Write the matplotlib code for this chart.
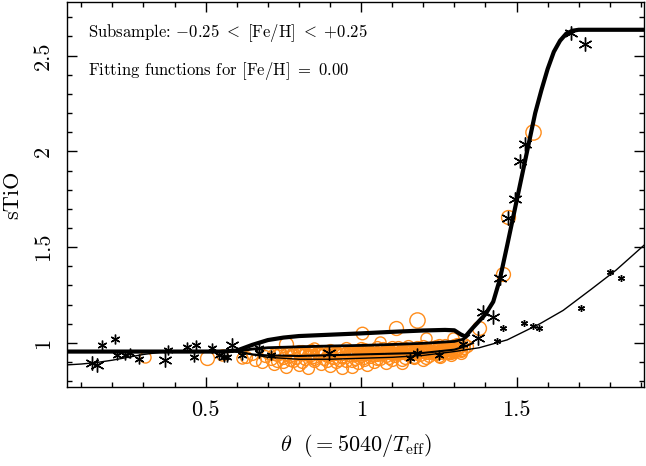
import matplotlib
matplotlib.use("Agg")
import matplotlib.pyplot as plt
from matplotlib.ticker import MultipleLocator

plt.rcParams['font.family'] = ['cmr10', 'DejaVu Serif']
plt.rcParams['mathtext.fontset'] = 'cm'
plt.rcParams['axes.formatter.use_mathtext'] = True

# ---------------- data ----------------
# fitting functions
fitA_x = [0.05, 0.55, 0.60, 0.65, 0.70, 0.75, 0.80, 0.90, 1.00, 1.10, 1.20, 1.27, 1.30, 1.32,
          1.335, 1.36, 1.38, 1.40, 1.425, 1.446, 1.47, 1.50, 1.53, 1.56, 1.58, 1.60, 1.62,
          1.64, 1.66, 1.68, 1.70, 1.91]
fitA_y = [0.955, 0.955, 0.960, 0.990, 1.015, 1.028, 1.036, 1.043, 1.050, 1.058, 1.065, 1.068,
          1.066, 1.045, 1.033, 1.080, 1.115, 1.150, 1.215, 1.330, 1.510, 1.740, 1.970, 2.200,
          2.320, 2.430, 2.520, 2.578, 2.615, 2.630, 2.635, 2.635]
fitB_x = [0.60, 0.65, 0.70, 0.80, 0.90, 1.00, 1.10, 1.20, 1.30, 1.33, 1.345]
fitB_y = [0.957, 0.968, 0.975, 0.980, 0.984, 0.987, 0.992, 0.998, 1.008, 1.020, 1.040]
fitC_x = [0.60, 0.65, 0.70, 0.80, 0.90, 1.00, 1.10, 1.20, 1.30, 1.34, 1.36]
fitC_y = [0.955, 0.940, 0.935, 0.932, 0.936, 0.940, 0.944, 0.948, 0.965, 0.985, 1.000]
fitD_x = [0.05, 0.10, 0.15, 0.20, 0.25, 0.30, 0.35, 0.40, 0.60, 0.65, 0.70, 0.80, 0.90, 1.00,
          1.10, 1.20, 1.30, 1.38, 1.47, 1.575, 1.65, 1.74, 1.82, 1.91]
fitD_y = [0.885, 0.890, 0.898, 0.910, 0.925, 0.940, 0.950, 0.955, 0.955, 0.940, 0.925, 0.915,
          0.915, 0.920, 0.925, 0.935, 0.955, 0.975, 1.016, 1.100, 1.170, 1.280, 1.380, 1.510]

# orange circles (main cluster)
circ_x = [0.63, 0.65, 0.66, 0.68, 0.69, 0.70, 0.71, 0.72, 0.73, 0.74, 0.75, 0.75,
          0.76, 0.77, 0.78, 0.78, 0.79, 0.80, 0.80, 0.81, 0.82, 0.83, 0.83, 0.84, 0.85, 0.85,
          0.86, 0.87, 0.87, 0.88, 0.89, 0.90, 0.90, 0.91, 0.92, 0.92, 0.93, 0.94, 0.94, 0.95, 0.95,
          0.96, 0.97, 0.97, 0.98, 0.98, 0.99, 0.99, 1.00, 1.00, 1.01, 1.01, 1.02, 1.02, 1.03, 1.03,
          1.04, 1.04, 1.05, 1.05,
          1.06, 1.06, 1.07, 1.07, 1.08, 1.08, 1.09, 1.09, 1.10, 1.10, 1.11, 1.11, 1.12, 1.12,
          1.13, 1.13, 1.14, 1.14, 1.15, 1.15,
          1.16, 1.16, 1.17, 1.17, 1.18, 1.18, 1.19, 1.19, 1.20, 1.20, 1.21, 1.21, 1.22, 1.22,
          1.23, 1.23, 1.24, 1.24, 1.25, 1.253,
          1.26, 1.26, 1.27, 1.27, 1.28, 1.28, 1.29, 1.29, 1.30, 1.30, 1.31, 1.31, 1.32, 1.32,
          1.33, 1.33, 1.34,
          0.96, 0.98, 1.00, 1.02, 1.04, 1.06, 1.08, 1.10, 1.12, 1.14, 1.16, 1.18, 1.20, 1.22,
          1.24, 1.26, 1.28, 1.30, 0.97, 0.99, 1.01, 1.03, 1.05, 1.07, 1.09, 1.11, 1.13, 1.15,
          1.17, 1.19, 1.21, 1.23, 1.25, 1.27, 1.29, 1.31, 0.90, 0.92, 0.94, 0.88, 0.86, 0.84,
          0.82, 0.80,
          0.72, 0.74, 0.76, 0.78, 0.80, 0.82, 0.84, 0.86, 0.88, 0.90, 0.92, 0.94, 0.96, 0.98,
          1.00, 1.02, 1.04, 1.06, 1.08, 1.10, 1.12, 1.14, 1.16, 1.18, 1.20, 1.22, 1.24, 1.26,
          1.28, 1.30, 1.32,
          0.73, 0.77, 0.81, 0.85, 0.89, 0.93, 0.97, 1.01, 1.05, 1.09, 1.13, 1.17, 1.21, 1.25,
          1.29, 1.32,
          0.95, 1.00, 1.05, 1.10, 1.15, 1.20, 1.25, 1.30]
circ_y = [0.925, 0.940, 0.910, 0.903, 0.930, 0.945, 0.915, 0.890, 0.935, 0.955, 0.920, 0.900,
          0.877, 0.930, 0.950, 0.905, 0.920, 0.940, 0.885, 0.960, 0.915, 0.868, 0.935, 0.950,
          0.905, 0.925,
          0.940, 0.890, 0.960, 0.915, 0.930, 0.950, 0.880, 0.920, 0.940, 0.900, 0.960, 0.925,
          0.870, 0.945, 0.905,
          0.935, 0.877, 0.955, 0.915, 0.940, 0.965, 0.895, 0.930, 0.950, 0.910, 0.970, 0.940,
          0.885, 0.955, 0.925, 0.945, 0.900, 0.965, 0.935,
          0.950, 0.915, 0.940, 0.975, 0.930, 0.895, 0.955, 0.965, 0.940, 0.910, 0.960, 0.930,
          0.950, 0.980, 0.896, 0.945, 0.965, 0.920, 0.955, 0.935,
          0.970, 0.945, 0.920, 0.960, 0.950, 0.980, 0.935, 0.965, 0.955, 0.910, 0.975, 0.945,
          0.960, 0.930, 0.970, 0.950, 0.985, 0.940, 0.960, 0.929,
          0.975, 0.950, 0.965, 0.990, 0.955, 0.980, 0.970, 0.945, 0.985, 0.960, 0.975, 0.995,
          0.965, 0.985, 0.975, 0.995, 0.985,
          0.955, 0.960, 0.960, 0.960, 0.965, 0.965, 0.965, 0.970, 0.965, 0.975, 0.960, 0.965,
          0.970, 0.975, 0.965, 0.965, 0.970, 0.975, 0.945, 0.950, 0.955, 0.945, 0.950, 0.955,
          0.945, 0.950, 0.960, 0.965, 0.950, 0.955, 0.960, 0.960, 0.975, 0.975, 0.960, 0.965,
          0.965, 0.955, 0.960, 0.955, 0.955, 0.965, 0.955, 0.960,
          0.940, 0.945, 0.940, 0.935, 0.945, 0.940, 0.935, 0.945, 0.940, 0.935, 0.945, 0.940,
          0.945, 0.935, 0.940, 0.945, 0.935, 0.940, 0.945, 0.950, 0.940, 0.945, 0.950, 0.940,
          0.955, 0.945, 0.950, 0.955, 0.945, 0.955, 0.960,
          0.905, 0.910, 0.900, 0.915, 0.905, 0.910, 0.905, 0.920, 0.915, 0.920, 0.910, 0.925,
          0.920, 0.930, 0.935, 0.950,
          0.975, 0.975, 0.980, 0.980, 0.985, 0.985, 0.990, 0.990]

# orange circles (isolated, larger)
bigc_x = [0.306, 0.505, 0.553, 0.617, 0.758, 0.850, 1.004, 1.060, 1.113, 1.180, 1.210, 1.295,
          1.379, 1.456, 1.473, 1.553]
bigc_y = [0.929, 0.920, 0.937, 0.920, 0.995, 0.972, 1.050, 1.007, 1.077, 1.120, 1.024, 1.024,
          1.080, 1.360, 1.660, 2.100]
bigc_s = [8, 10, 8, 8, 10, 8, 9, 8, 10, 11, 8, 8, 10, 10, 10, 11]

# black asterisks
bigstar_x = [0.134, 0.150, 0.370, 0.585, 0.898, 1.376, 1.392, 1.425, 1.446, 1.472, 1.495,
             1.510, 1.527, 1.675, 1.720]
bigstar_y = [0.894, 0.885, 0.910, 0.990, 0.946, 1.026, 1.163, 1.137, 1.340, 1.650, 1.750,
             1.950, 2.040, 2.620, 2.560]
midstar_x = [0.166, 0.210, 0.215, 0.240, 0.258, 0.285, 0.380, 0.440, 0.468, 0.462, 0.521,
             0.543, 0.570, 0.560, 0.617, 0.672, 0.672, 0.710, 1.156, 1.180, 1.250, 1.327]
midstar_y = [0.990, 1.020, 0.937, 0.937, 0.950, 0.915, 0.964, 0.981, 0.990, 0.929, 0.972,
             0.937, 0.929, 0.929, 0.937, 0.972, 0.946, 0.937, 0.920, 0.946, 0.937, 0.995]
smallstar_x = [1.437, 1.456, 1.524, 1.552, 1.573, 1.707, 1.800, 1.835]
smallstar_y = [1.012, 1.080, 1.106, 1.089, 1.080, 1.184, 1.370, 1.340]

x_major = [0.5, 1.0, 1.5]
x_labels = ['0.5', '1', '1.5']
y_major = [1.0, 1.5, 2.0, 2.5]
y_labels = ['1', '1.5', '2', '2.5']

# ---------------- plot ----------------
orange = '#ff8c1a'
fig = plt.figure(figsize=(6.46, 4.66), dpi=100)
ax = fig.add_axes([67 / 646, 1 - 387 / 466, (644 - 67) / 646, (387 - 2) / 466])

ax.plot(circ_x, circ_y, 'o', mfc='none', mec=orange, ms=8.5, mew=1.0, zorder=2)
for x, y, s in zip(bigc_x, bigc_y, bigc_s):
    ax.plot([x], [y], 'o', mfc='none', mec=orange, ms=s, mew=1.0, zorder=2)

ax.plot(fitD_x, fitD_y, color='black', lw=1.0, zorder=3)
ax.plot(fitC_x, fitC_y, color='black', lw=1.5, zorder=3)
ax.plot(fitB_x, fitB_y, color='black', lw=2.0, zorder=3)
ax.plot(fitA_x, fitA_y, color='black', lw=3.0, zorder=3, solid_joinstyle='round')

ast = (6, 2, 0)
ax.plot(bigstar_x, bigstar_y, ls='none', marker=ast, ms=10, mec='black', mew=1.0, zorder=4)
ax.plot(midstar_x, midstar_y, ls='none', marker=ast, ms=7, mec='black', mew=1.0, zorder=4)
ax.plot(smallstar_x, smallstar_y, ls='none', marker=ast, ms=5, mec='black', mew=1.0, zorder=4)

ax.set_xlim(0.054, 1.91)
ax.set_ylim(0.77, 2.78)
ax.set_xticks(x_major)
ax.set_xticklabels(x_labels)
ax.set_yticks(y_major)
ax.set_yticklabels(y_labels, rotation=90, va='center')
ax.xaxis.set_minor_locator(MultipleLocator(0.1))
ax.yaxis.set_minor_locator(MultipleLocator(0.1))
ax.tick_params(which='both', direction='in', top=True, right=True, width=1.0, labelsize=16)
ax.tick_params(which='major', length=7)
ax.tick_params(which='minor', length=3.5)
ax.tick_params(axis='x', pad=10)
ax.tick_params(axis='y', pad=10)
for sp in ax.spines.values():
    sp.set_linewidth(1.0)

ax.set_xlabel(r'$\theta\ \ ({=}5040/T_{\rm eff})$', fontsize=16, labelpad=8)
ax.set_ylabel('sTiO', fontsize=16, labelpad=8)

ax.text(0.036, 0.909, r'Subsample: $-0.25\ <\ [{\rm Fe/H}]\ <\ {+}0.25$', transform=ax.transAxes,
        fontsize=12, ha='left', va='baseline')
ax.text(0.036, 0.81, r'Fitting functions for $[{\rm Fe/H}]\ =\ 0.00$', transform=ax.transAxes,
        fontsize=12, ha='left', va='baseline')

fig.savefig('out.png', dpi=100)
